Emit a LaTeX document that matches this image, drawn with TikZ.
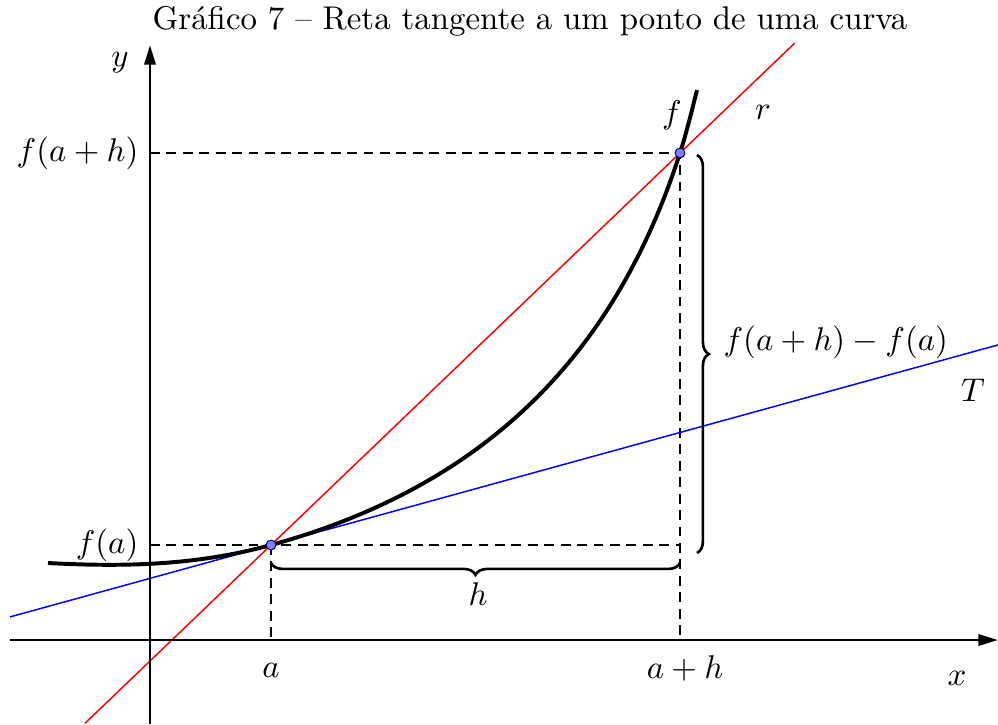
\documentclass[tikz,border=0pt]{standalone}
\usepackage{amsmath,amssymb}
\usepackage{tikz}
\usetikzlibrary{arrows.meta,positioning,calc,decorations.pathreplacing}

\begin{document}
\begin{tikzpicture}[x=0.0107cm,y=0.0107cm,
    eixo/.style={line width=0.9pt,-{Triangle[length=6pt,width=3.4pt]}},
    guia/.style={semithick,dash pattern=on 3pt off 2pt},
    chave/.style={thick,decorate,decoration={brace,amplitude=3.6pt}},
    reta/.style={line width=0.45pt},
    ponto/.style={circle,draw=blue!40!black,fill=blue!50!white,line width=0.3pt,inner sep=0pt,minimum size=3pt}]
  \useasboundingbox (-150,-84) rectangle (848,640);

  % Titulo
  \node[anchor=base] (titulo) at (380,611) {Gráfico 7 -- Reta tangente a um ponto de uma curva};

  % Pontos (a,f(a)) e (a+h,f(a+h))
  \coordinate (A) at (121,95);
  \coordinate (B) at (530,487);
  \coordinate (fah) at (0,487);
  \coordinate (fa) at (0,95);
  \coordinate (xa) at (121,0);
  \coordinate (xah) at (530,0);
  \coordinate (cA) at (530,95);

  % Linhas tracejadas
  \draw[guia] (fah) -- (B) -- (xah);
  \draw[guia] (fa) -- (cA);
  \draw[guia] (A) -- (xa);

  % Reta secante r e reta tangente T
  \draw[red,reta] ($(A)!-0.455!(B)$) -- ($(A)!1.28!(B)$);
  \draw[blue,reta] (-140,23.1) -- (848,295.1);

  % Curva f
  \draw[very thick] (-102,77) .. controls (-27,73) and (46,74.4) .. (A)
    .. controls (351,158.3) and (470,301) .. (B)
    .. controls (536,505.6) and (542,530) .. (547,550);

  % Eixos
  \draw[eixo] (-140,0) -- (848,0);
  \draw[eixo] (0,-84) -- (0,595);

  % Chaves
  \draw[chave] (530,77) -- (121,77);
  \draw[chave] (547,485) -- (547,87);

  % Pontos
  \node[ponto] (pA) at (A) {};
  \node[ponto] (pB) at (B) {};

  % Rotulos
  \node[left] (lfah) at (fah) {$f(a+h)$};
  \node[left] (lfa) at (fa) {$f(a)$};
  \node[anchor=base] (la) at (121,-37) {$a$};
  \node[anchor=base] (lah) at (535,-38) {$a+h$};
  \node[anchor=base] (lx) at (807,-45) {$x$};
  \node (ly) at (-30,577) {$y$};
  \node (lh) at (328,46) {$h$};
  \node[anchor=west] (ldif) at (562,298) {$f(a+h)-f(a)$};
  \node (lT) at (823,250) {$T$};
  \node (lr) at (613,528) {$r$};
  \node (lf) at (522,525) {$f$};
\end{tikzpicture}
\end{document}
